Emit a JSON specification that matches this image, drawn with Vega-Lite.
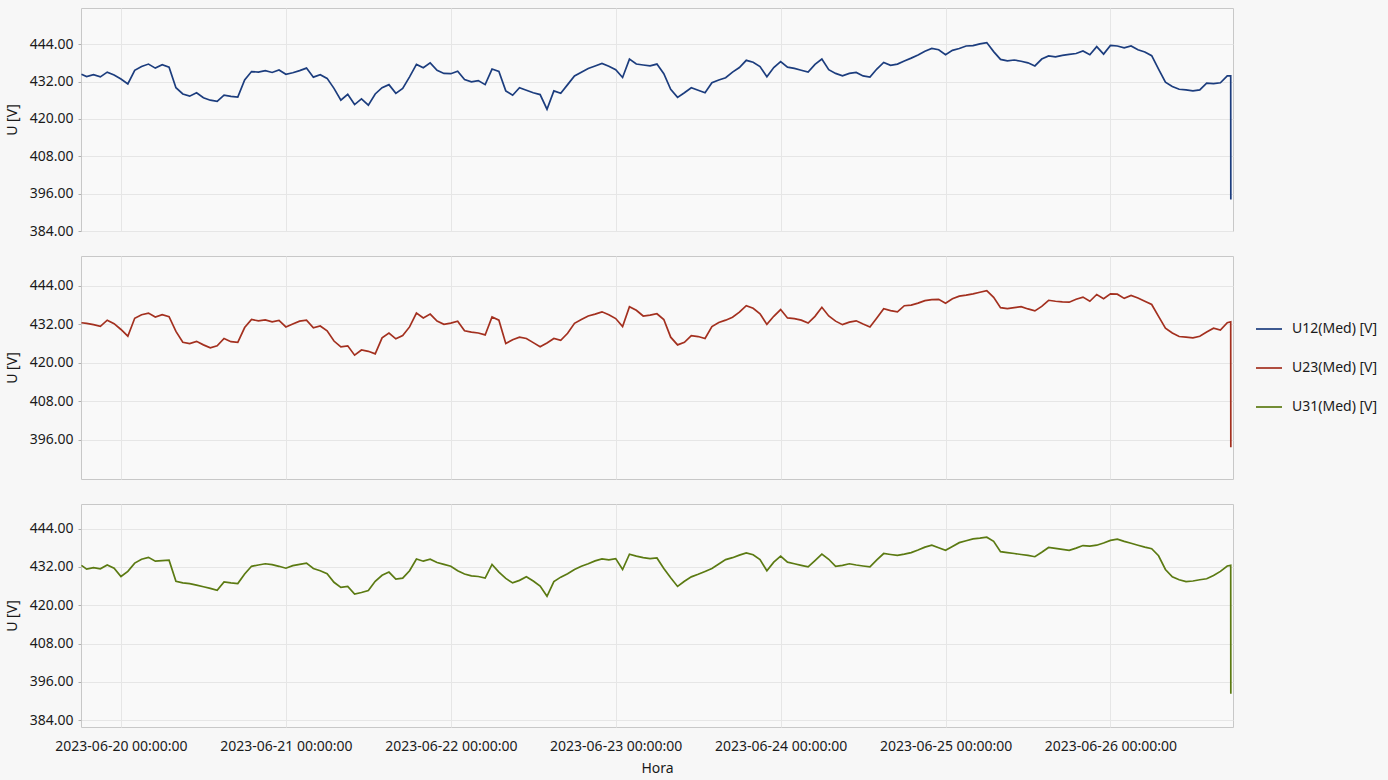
{
"$schema": "https://vega.github.io/schema/vega-lite/v6.json",
"autosize": {"type": "none"},
"padding": {"left": 81, "top": 8, "right": 1307, "bottom": 772},
"background": "#f7f7f7",
"bounds": "flush",
"spacing": 25,
"config": {
  "font": "Noto Sans",
  "view": {"stroke": "#c8c8c8", "strokeWidth": 1, "fill": "#f9f9f9"},
  "axis": {"gridColor": "#e6e6e6", "gridWidth": 1, "domain": false, "labelFont": "Noto Sans", "titleFont": "Noto Sans", "labelFontSize": 14, "titleFontSize": 14, "titleFontWeight": "normal", "labelColor": "#1a1a1a", "titleColor": "#1a1a1a", "tickColor": "#b0b0b0", "tickSize": 3},
  "legend": {"labelFont": "Noto Sans", "labelFontSize": 14, "labelColor": "#1a1a1a"},
  "line": {"strokeWidth": 1.7}
},
"datasets": {"d": [
{"t":"2023-06-19T18:15","a":434.3,"b":432.5,"c":432.5},
{"t":"2023-06-19T19:00","a":433.6,"b":432.3,"c":431.3},
{"t":"2023-06-19T20:00","a":434.2,"b":431.9,"c":431.8},
{"t":"2023-06-19T21:00","a":433.5,"b":431.4,"c":431.4},
{"t":"2023-06-19T22:00","a":435.0,"b":433.3,"c":432.6},
{"t":"2023-06-19T23:00","a":434.1,"b":432.2,"c":431.6},
{"t":"2023-06-20T00:00","a":432.8,"b":430.4,"c":429.0},
{"t":"2023-06-20T01:00","a":431.2,"b":428.3,"c":430.6},
{"t":"2023-06-20T02:00","a":435.6,"b":433.9,"c":433.2},
{"t":"2023-06-20T03:00","a":436.8,"b":435.0,"c":434.4},
{"t":"2023-06-20T04:00","a":437.6,"b":435.5,"c":435.0},
{"t":"2023-06-20T05:00","a":436.3,"b":434.3,"c":433.8},
{"t":"2023-06-20T06:00","a":437.4,"b":435.0,"c":434.0},
{"t":"2023-06-20T07:00","a":436.6,"b":434.4,"c":434.1},
{"t":"2023-06-20T08:00","a":430.0,"b":429.8,"c":427.5},
{"t":"2023-06-20T09:00","a":428.0,"b":426.4,"c":427.0},
{"t":"2023-06-20T10:00","a":427.3,"b":426.0,"c":426.8},
{"t":"2023-06-20T11:00","a":428.4,"b":426.7,"c":426.3},
{"t":"2023-06-20T12:00","a":426.8,"b":425.6,"c":425.8},
{"t":"2023-06-20T13:00","a":426.0,"b":424.7,"c":425.3},
{"t":"2023-06-20T14:00","a":425.6,"b":425.3,"c":424.7},
{"t":"2023-06-20T15:00","a":427.6,"b":427.6,"c":427.3},
{"t":"2023-06-20T16:00","a":427.2,"b":426.6,"c":427.0},
{"t":"2023-06-20T17:00","a":427.0,"b":426.4,"c":426.8},
{"t":"2023-06-20T18:00","a":432.5,"b":431.0,"c":429.8},
{"t":"2023-06-20T19:00","a":435.2,"b":433.5,"c":432.2},
{"t":"2023-06-20T20:00","a":435.0,"b":433.1,"c":432.6},
{"t":"2023-06-20T21:00","a":435.5,"b":433.4,"c":433.0},
{"t":"2023-06-20T22:00","a":434.9,"b":432.8,"c":432.7},
{"t":"2023-06-20T23:00","a":435.7,"b":433.2,"c":432.2},
{"t":"2023-06-21T00:00","a":434.3,"b":431.2,"c":431.6},
{"t":"2023-06-21T01:00","a":434.8,"b":432.1,"c":432.4},
{"t":"2023-06-21T02:00","a":435.5,"b":433.0,"c":432.8},
{"t":"2023-06-21T03:00","a":436.3,"b":433.3,"c":433.2},
{"t":"2023-06-21T04:00","a":433.4,"b":430.9,"c":431.5},
{"t":"2023-06-21T05:00","a":434.2,"b":431.5,"c":430.8},
{"t":"2023-06-21T06:00","a":433.0,"b":430.0,"c":429.9},
{"t":"2023-06-21T07:00","a":429.8,"b":426.8,"c":427.2},
{"t":"2023-06-21T08:00","a":426.0,"b":425.0,"c":425.6},
{"t":"2023-06-21T09:00","a":427.9,"b":425.3,"c":425.9},
{"t":"2023-06-21T10:00","a":424.6,"b":422.4,"c":423.5},
{"t":"2023-06-21T11:00","a":426.4,"b":424.0,"c":424.0},
{"t":"2023-06-21T12:00","a":424.4,"b":423.6,"c":424.6},
{"t":"2023-06-21T13:00","a":428.0,"b":422.8,"c":427.5},
{"t":"2023-06-21T14:00","a":430.0,"b":427.8,"c":429.4},
{"t":"2023-06-21T15:00","a":431.0,"b":429.3,"c":430.4},
{"t":"2023-06-21T16:00","a":428.2,"b":427.5,"c":428.2},
{"t":"2023-06-21T17:00","a":429.8,"b":428.5,"c":428.5},
{"t":"2023-06-21T18:00","a":433.5,"b":431.2,"c":430.8},
{"t":"2023-06-21T19:00","a":437.5,"b":435.5,"c":434.5},
{"t":"2023-06-21T20:00","a":436.4,"b":434.0,"c":433.8},
{"t":"2023-06-21T21:00","a":438.0,"b":435.2,"c":434.4},
{"t":"2023-06-21T22:00","a":435.6,"b":433.0,"c":433.4},
{"t":"2023-06-21T23:00","a":434.6,"b":432.0,"c":432.8},
{"t":"2023-06-22T00:00","a":434.5,"b":432.4,"c":432.2},
{"t":"2023-06-22T01:00","a":435.3,"b":433.0,"c":430.8},
{"t":"2023-06-22T02:00","a":432.6,"b":430.0,"c":429.8},
{"t":"2023-06-22T03:00","a":431.9,"b":429.6,"c":429.2},
{"t":"2023-06-22T04:00","a":432.3,"b":429.3,"c":429.0},
{"t":"2023-06-22T05:00","a":431.0,"b":428.7,"c":428.5},
{"t":"2023-06-22T06:00","a":436.0,"b":434.3,"c":432.8},
{"t":"2023-06-22T07:00","a":435.2,"b":433.3,"c":430.4},
{"t":"2023-06-22T08:00","a":429.0,"b":426.0,"c":428.4},
{"t":"2023-06-22T09:00","a":427.6,"b":427.2,"c":427.0},
{"t":"2023-06-22T10:00","a":430.0,"b":428.0,"c":427.8},
{"t":"2023-06-22T11:00","a":429.2,"b":427.6,"c":428.9},
{"t":"2023-06-22T12:00","a":428.4,"b":426.3,"c":427.6},
{"t":"2023-06-22T13:00","a":427.8,"b":425.0,"c":426.0},
{"t":"2023-06-22T14:00","a":423.1,"b":426.2,"c":422.8},
{"t":"2023-06-22T15:00","a":429.0,"b":427.6,"c":427.4},
{"t":"2023-06-22T16:00","a":428.2,"b":427.0,"c":428.8},
{"t":"2023-06-22T17:00","a":431.0,"b":429.2,"c":429.9},
{"t":"2023-06-22T18:00","a":433.8,"b":432.3,"c":431.2},
{"t":"2023-06-22T19:00","a":435.0,"b":433.5,"c":432.2},
{"t":"2023-06-22T20:00","a":436.2,"b":434.6,"c":433.0},
{"t":"2023-06-22T21:00","a":437.0,"b":435.2,"c":433.9},
{"t":"2023-06-22T22:00","a":437.8,"b":435.9,"c":434.5},
{"t":"2023-06-22T23:00","a":436.9,"b":435.0,"c":434.2},
{"t":"2023-06-23T00:00","a":435.8,"b":433.8,"c":434.6},
{"t":"2023-06-23T01:00","a":433.3,"b":431.3,"c":431.2},
{"t":"2023-06-23T02:00","a":439.2,"b":437.5,"c":436.0},
{"t":"2023-06-23T03:00","a":437.6,"b":436.4,"c":435.4},
{"t":"2023-06-23T04:00","a":437.3,"b":434.6,"c":434.9},
{"t":"2023-06-23T05:00","a":437.0,"b":434.9,"c":434.6},
{"t":"2023-06-23T06:00","a":437.6,"b":435.3,"c":434.8},
{"t":"2023-06-23T07:00","a":434.5,"b":433.5,"c":431.5},
{"t":"2023-06-23T08:00","a":429.5,"b":428.0,"c":428.6},
{"t":"2023-06-23T09:00","a":426.9,"b":425.6,"c":425.9},
{"t":"2023-06-23T10:00","a":428.4,"b":426.4,"c":427.5},
{"t":"2023-06-23T11:00","a":430.0,"b":428.5,"c":428.9},
{"t":"2023-06-23T12:00","a":429.2,"b":428.2,"c":429.7},
{"t":"2023-06-23T13:00","a":428.4,"b":427.6,"c":430.6},
{"t":"2023-06-23T14:00","a":431.6,"b":431.3,"c":431.5},
{"t":"2023-06-23T15:00","a":432.5,"b":432.6,"c":432.9},
{"t":"2023-06-23T16:00","a":433.2,"b":433.3,"c":434.3},
{"t":"2023-06-23T17:00","a":435.0,"b":434.2,"c":434.9},
{"t":"2023-06-23T18:00","a":436.5,"b":435.8,"c":435.7},
{"t":"2023-06-23T19:00","a":438.8,"b":437.8,"c":436.4},
{"t":"2023-06-23T20:00","a":438.2,"b":437.0,"c":435.8},
{"t":"2023-06-23T21:00","a":436.8,"b":435.3,"c":434.3},
{"t":"2023-06-23T22:00","a":433.5,"b":432.0,"c":430.8},
{"t":"2023-06-23T23:00","a":436.5,"b":434.5,"c":433.5},
{"t":"2023-06-24T00:00","a":438.4,"b":436.6,"c":435.4},
{"t":"2023-06-24T01:00","a":436.6,"b":434.0,"c":433.5},
{"t":"2023-06-24T02:00","a":436.2,"b":433.8,"c":433.0},
{"t":"2023-06-24T03:00","a":435.6,"b":433.3,"c":432.5},
{"t":"2023-06-24T04:00","a":435.0,"b":432.4,"c":432.0},
{"t":"2023-06-24T05:00","a":437.5,"b":434.5,"c":434.0},
{"t":"2023-06-24T06:00","a":439.2,"b":437.3,"c":436.0},
{"t":"2023-06-24T07:00","a":435.8,"b":434.6,"c":434.4},
{"t":"2023-06-24T08:00","a":434.6,"b":433.0,"c":432.2},
{"t":"2023-06-24T09:00","a":433.8,"b":431.9,"c":432.5},
{"t":"2023-06-24T10:00","a":434.6,"b":432.7,"c":433.0},
{"t":"2023-06-24T11:00","a":434.9,"b":433.1,"c":432.6},
{"t":"2023-06-24T12:00","a":433.8,"b":432.1,"c":432.3},
{"t":"2023-06-24T13:00","a":433.4,"b":431.2,"c":432.0},
{"t":"2023-06-24T14:00","a":436.0,"b":434.0,"c":434.2},
{"t":"2023-06-24T15:00","a":438.1,"b":436.9,"c":436.2},
{"t":"2023-06-24T16:00","a":437.2,"b":436.3,"c":435.9},
{"t":"2023-06-24T17:00","a":437.6,"b":435.9,"c":435.6},
{"t":"2023-06-24T18:00","a":438.6,"b":437.8,"c":436.0},
{"t":"2023-06-24T19:00","a":439.5,"b":438.0,"c":436.5},
{"t":"2023-06-24T20:00","a":440.5,"b":438.6,"c":437.3},
{"t":"2023-06-24T21:00","a":441.7,"b":439.4,"c":438.2},
{"t":"2023-06-24T22:00","a":442.6,"b":439.7,"c":438.8},
{"t":"2023-06-24T23:00","a":442.2,"b":439.8,"c":438.0},
{"t":"2023-06-25T00:00","a":440.6,"b":438.6,"c":437.2},
{"t":"2023-06-25T01:00","a":442.0,"b":440.0,"c":438.4},
{"t":"2023-06-25T02:00","a":442.6,"b":440.8,"c":439.6},
{"t":"2023-06-25T03:00","a":443.4,"b":441.1,"c":440.2},
{"t":"2023-06-25T04:00","a":443.5,"b":441.5,"c":440.8},
{"t":"2023-06-25T05:00","a":444.1,"b":442.0,"c":441.0},
{"t":"2023-06-25T06:00","a":444.5,"b":442.5,"c":441.3},
{"t":"2023-06-25T07:00","a":441.6,"b":440.4,"c":440.0},
{"t":"2023-06-25T08:00","a":439.1,"b":437.2,"c":436.8},
{"t":"2023-06-25T09:00","a":438.6,"b":436.9,"c":436.5},
{"t":"2023-06-25T10:00","a":438.9,"b":437.2,"c":436.2},
{"t":"2023-06-25T11:00","a":438.5,"b":437.5,"c":435.9},
{"t":"2023-06-25T12:00","a":438.0,"b":436.8,"c":435.6},
{"t":"2023-06-25T13:00","a":437.0,"b":436.2,"c":435.2},
{"t":"2023-06-25T14:00","a":439.2,"b":437.6,"c":436.6},
{"t":"2023-06-25T15:00","a":440.2,"b":439.5,"c":438.1},
{"t":"2023-06-25T16:00","a":439.9,"b":439.2,"c":437.8},
{"t":"2023-06-25T17:00","a":440.4,"b":439.0,"c":437.5},
{"t":"2023-06-25T18:00","a":440.7,"b":438.9,"c":437.2},
{"t":"2023-06-25T19:00","a":441.0,"b":439.8,"c":437.9},
{"t":"2023-06-25T20:00","a":441.8,"b":440.5,"c":438.7},
{"t":"2023-06-25T21:00","a":440.6,"b":439.2,"c":438.5},
{"t":"2023-06-25T22:00","a":443.2,"b":441.3,"c":438.8},
{"t":"2023-06-25T23:00","a":440.8,"b":440.0,"c":439.5},
{"t":"2023-06-26T00:00","a":443.6,"b":441.5,"c":440.3},
{"t":"2023-06-26T01:00","a":443.4,"b":441.4,"c":440.7},
{"t":"2023-06-26T02:00","a":442.8,"b":440.1,"c":440.0},
{"t":"2023-06-26T03:00","a":443.4,"b":441.0,"c":439.4},
{"t":"2023-06-26T04:00","a":442.2,"b":440.2,"c":438.8},
{"t":"2023-06-26T05:00","a":441.5,"b":439.2,"c":438.2},
{"t":"2023-06-26T06:00","a":440.3,"b":438.2,"c":437.7},
{"t":"2023-06-26T07:00","a":436.0,"b":434.5,"c":435.5},
{"t":"2023-06-26T08:00","a":431.8,"b":430.8,"c":431.2},
{"t":"2023-06-26T09:00","a":430.4,"b":429.3,"c":428.9},
{"t":"2023-06-26T10:00","a":429.5,"b":428.2,"c":428.0},
{"t":"2023-06-26T11:00","a":429.3,"b":428.0,"c":427.4},
{"t":"2023-06-26T12:00","a":429.0,"b":427.8,"c":427.6},
{"t":"2023-06-26T13:00","a":429.3,"b":428.3,"c":428.0},
{"t":"2023-06-26T14:00","a":431.5,"b":429.6,"c":428.3},
{"t":"2023-06-26T15:00","a":431.3,"b":430.8,"c":429.3},
{"t":"2023-06-26T16:00","a":431.6,"b":430.2,"c":430.6},
{"t":"2023-06-26T17:00","a":433.8,"b":432.5,"c":432.3},
{"t":"2023-06-26T17:30","a":433.8,"b":432.8,"c":432.5},
{"t":"2023-06-26T17:31","a":394.1,"b":393.7,"c":392.3}
]},
"data": {"name": "d"},
"vconcat": [
  {
    "width": 1152, "height": 223,
    "mark": {"type": "line", "clip": true},
    "encoding": {
      "x": {"field": "t", "type": "temporal",
        "scale": {"domain": [{"year": 2023, "month": 6, "date": 19, "hours": 18, "minutes": 11}, {"year": 2023, "month": 6, "date": 26, "hours": 17, "minutes": 50}]},
        "axis": {"labels": false, "ticks": false, "title": null, "grid": true,
          "values": [{"year": 2023, "month": 6, "date": 20}, {"year": 2023, "month": 6, "date": 21}, {"year": 2023, "month": 6, "date": 22}, {"year": 2023, "month": 6, "date": 23}, {"year": 2023, "month": 6, "date": 24}, {"year": 2023, "month": 6, "date": 25}, {"year": 2023, "month": 6, "date": 26}]}},
      "y": {"field": "a", "type": "quantitative",
        "scale": {"domain": [384, 455.6], "nice": false, "zero": false},
        "axis": {"values": [384, 396, 408, 420, 432, 444], "format": ".2f", "title": "U [V]", "labelPadding": 5, "titlePadding": 10}},
      "color": {"datum": "U12(Med) [V]", "type": "nominal",
        "scale": {"domain": ["U12(Med) [V]", "U23(Med) [V]", "U31(Med) [V]"], "range": ["#1c3d7e", "#a3301f", "#5b7a12"]},
        "legend": {"title": null, "orient": "none", "legendX": 1174, "legendY": 307, "symbolType": "stroke", "symbolSize": 676, "symbolStrokeWidth": 2, "rowPadding": 18, "labelOffset": 9, "padding": 0}}
    }
  },
  {
    "width": 1152, "height": 223,
    "mark": {"type": "line", "clip": true},
    "encoding": {
      "x": {"field": "t", "type": "temporal",
        "scale": {"domain": [{"year": 2023, "month": 6, "date": 19, "hours": 18, "minutes": 11}, {"year": 2023, "month": 6, "date": 26, "hours": 17, "minutes": 50}]},
        "axis": {"labels": false, "ticks": false, "title": null, "grid": true,
          "values": [{"year": 2023, "month": 6, "date": 20}, {"year": 2023, "month": 6, "date": 21}, {"year": 2023, "month": 6, "date": 22}, {"year": 2023, "month": 6, "date": 23}, {"year": 2023, "month": 6, "date": 24}, {"year": 2023, "month": 6, "date": 25}, {"year": 2023, "month": 6, "date": 26}]}},
      "y": {"field": "b", "type": "quantitative",
        "scale": {"domain": [383.8, 453.3], "nice": false, "zero": false},
        "axis": {"values": [396, 408, 420, 432, 444], "format": ".2f", "title": "U [V]", "labelPadding": 5, "titlePadding": 10}},
      "color": {"datum": "U23(Med) [V]", "type": "nominal"}
    }
  },
  {
    "width": 1152, "height": 223,
    "mark": {"type": "line", "clip": true},
    "encoding": {
      "x": {"field": "t", "type": "temporal",
        "scale": {"domain": [{"year": 2023, "month": 6, "date": 19, "hours": 18, "minutes": 11}, {"year": 2023, "month": 6, "date": 26, "hours": 17, "minutes": 50}]},
        "axis": {"ticks": false, "title": "Hora", "grid": true, "format": "%Y-%m-%d %H:%M:%S", "labelPadding": 12, "titlePadding": 8,
          "values": [{"year": 2023, "month": 6, "date": 20}, {"year": 2023, "month": 6, "date": 21}, {"year": 2023, "month": 6, "date": 22}, {"year": 2023, "month": 6, "date": 23}, {"year": 2023, "month": 6, "date": 24}, {"year": 2023, "month": 6, "date": 25}, {"year": 2023, "month": 6, "date": 26}]}},
      "y": {"field": "c", "type": "quantitative",
        "scale": {"domain": [381.9, 451.7], "nice": false, "zero": false},
        "axis": {"values": [384, 396, 408, 420, 432, 444], "format": ".2f", "title": "U [V]", "labelPadding": 5, "titlePadding": 10}},
      "color": {"datum": "U31(Med) [V]", "type": "nominal"}
    }
  }
],
"resolve": {"scale": {"color": "shared"}}
}
